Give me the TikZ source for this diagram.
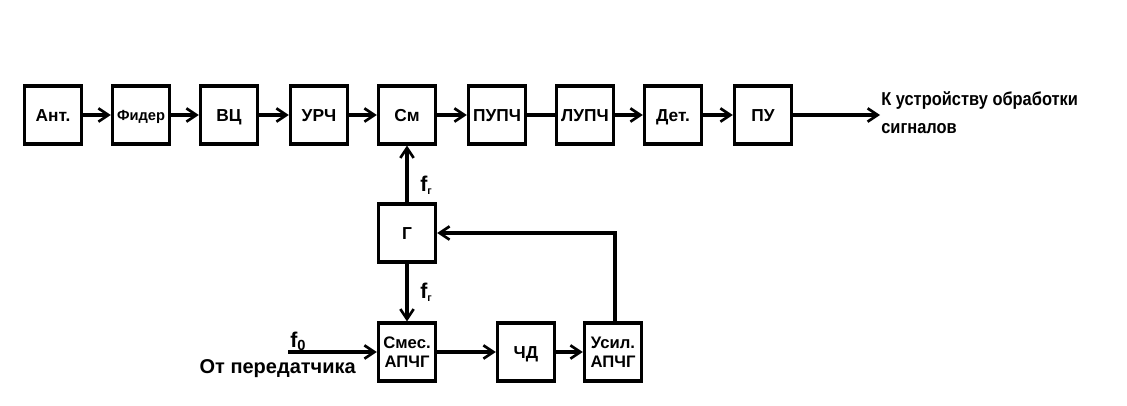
\documentclass[tikz,border=0pt]{standalone}
\usepackage{fontspec}
\setmainfont{Liberation Sans}
\usetikzlibrary{arrows.meta}
\begin{document}
\begin{tikzpicture}[x=0.75pt,y=-0.75pt,
  box/.style={draw,line width=2.3pt,minimum width=43pt,minimum height=43.5pt,inner sep=0pt,align=center},
  blk/.style={box,font=\bfseries\fontsize{13}{15}\selectfont,text height=9.3pt,text depth=0pt},
  fblk/.style={box,font=\bfseries\fontsize{11}{13}\selectfont,text height=7.9pt,text depth=0pt},
  sblk/.style={box,font=\bfseries\fontsize{12.5}{14.5}\selectfont},
  con/.style={line width=2.3pt,-{Straight Barb[length=7.5pt,width=10pt,line width=2pt]}},
  pl/.style={line width=2.3pt},
  lbl/.style={font=\bfseries\fontsize{14}{16}\selectfont,inner sep=0pt},
  flbl/.style={font=\bfseries\fontsize{16}{18}\selectfont,inner sep=0pt,anchor=base west}]
\useasboundingbox (0,0) rectangle (1127,405);
\node[blk] (ant) at (53,115) {Ант.};
\node[fblk] (fid) at (141,115) {Фидер};
\node[blk] (vc) at (229,115) {ВЦ};
\node[blk] (urch) at (319,115) {УРЧ};
\node[blk] (sm) at (407,115) {См};
\node[blk] (pupch) at (497,115) {ПУПЧ};
\node[blk] (lupch) at (585,115) {ЛУПЧ};
\node[blk] (det) at (673,115) {Дет.};
\node[blk] (pu) at (763,115) {ПУ};
\node[blk] (g) at (407,233) {Г};
\node[sblk] (smes) at (407,352) {Смес.\\АПЧГ};
\node[blk] (chd) at (526,352) {ЧД};
\node[sblk] (usil) at (613,352) {Усил.\\АПЧГ};
\coordinate (out) at (880,115);
\coordinate (in) at (288,352);
\coordinate (fb) at (615,233);
\draw[con] (ant) -- (fid);
\draw[con] (fid) -- (vc);
\draw[con] (vc) -- (urch);
\draw[con] (urch) -- (sm);
\draw[con] (sm) -- (pupch);
\draw[pl] (pupch) -- (lupch);
\draw[con] (lupch) -- (det);
\draw[con] (det) -- (pu);
\draw[con] (pu) -- (out);
\draw[con] (g) -- (sm);
\draw[con] (g) -- (smes);
\draw[con] (in) -- (smes);
\draw[con] (smes) -- (chd);
\draw[con] (chd) -- (usil);
\draw[con] (usil.north -| fb) -- (fb) -- (g.east);
\node[lbl,anchor=base west] (t1) at (881,105) {\scalebox{0.88}[1]{К устройству обработки}};
\node[lbl,anchor=base west] (t2) at (881,133) {\scalebox{0.88}[1]{сигналов}};
\node[flbl] (fg1) at (420,191) {f\textsubscript{\fontsize{8}{9}\selectfont г}};
\node[flbl] (fg2) at (420,298) {f\textsubscript{\fontsize{8}{9}\selectfont г}};
\node[flbl] (f0) at (290,347) {f\textsubscript{\fontsize{11}{12}\selectfont 0}};
\node[lbl,anchor=base east,font=\bfseries\fontsize{15}{17}\selectfont] (src) at (356,373) {От передатчика};
\end{tikzpicture}
\end{document}
